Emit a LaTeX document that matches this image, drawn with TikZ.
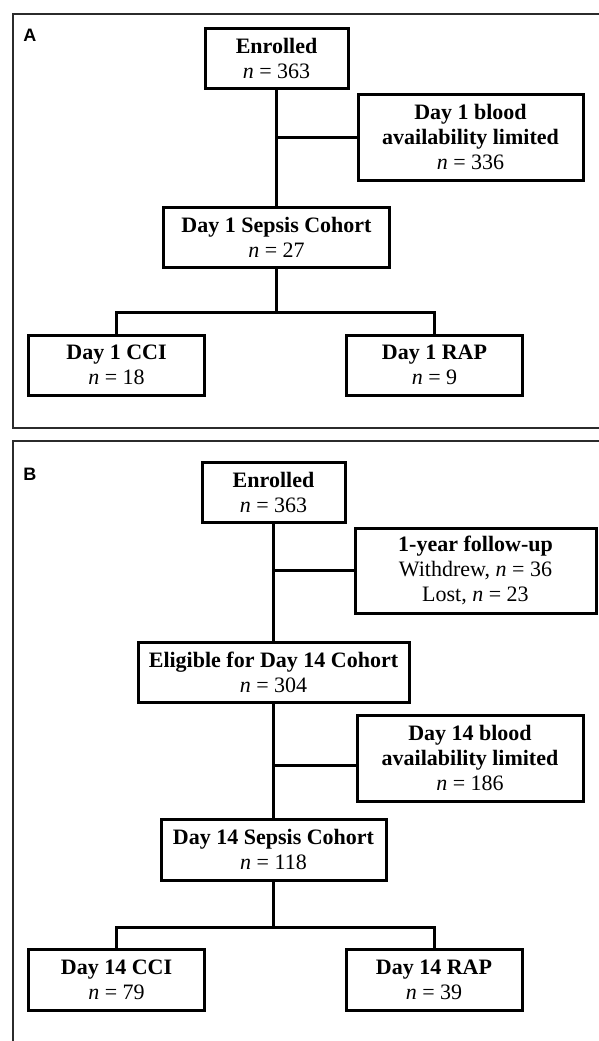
\documentclass[tikz,border=0pt]{standalone}
\usepackage{fontspec}
\setmainfont{Liberation Serif}
\newfontfamily\tagfont{Liberation Sans}
\usepackage{tikz}
\usetikzlibrary{positioning}
\definecolor{framegray}{HTML}{2B2B2B}

\begin{document}
\begin{tikzpicture}[
        x=0.5pt, y=-0.5pt,
        box/.style={rectangle, draw, line width=1.5pt, outer sep=0pt, inner sep=0pt, align=center, font=\fontsize{11}{12.5}\selectfont, minimum height=30pt},
        panel/.style={draw=framegray, line width=1pt},
        tag/.style={font=\tagfont\fontsize{9}{10}\selectfont\bfseries},
        link/.style={line width=1.5pt}
    ]
        \clip (0,0) rectangle (599,1041);
        % Panels
        \draw [panel] (13,14) rectangle (640,428);
        \draw [panel] (13,441) rectangle (640,1080);
        \node (tagA) [tag] at (30,35) {A};
        \node (tagB) [tag] at (30,474) {B};

        % Nodes (A)
        \node (enA) [box, minimum width=71.5pt] at (276.5,58) {\textbf{Enrolled}\\\textit{n} = 363};
        \node (limA) [box, minimum width=112.5pt, minimum height=43pt, below right=3pt and 5pt of enA] {\textbf{Day 1 blood}\\\textbf{availability limited}\\\textit{n} = 336};
        \node (sepA) [box, minimum width=113pt, below=59.5pt of enA] {\textbf{Day 1 Sepsis Cohort}\\\textit{n} = 27};
        \node (cciA) [box, minimum width=88pt, below=34pt of sepA, xshift=-80pt] {\textbf{Day 1 CCI}\\\textit{n} = 18};
        \node (rapA) [box, minimum width=88pt, below=34pt of sepA, xshift=79pt] {\textbf{Day 1 RAP}\\\textit{n} = 9};

        % Nodes (B)
        \node (enB) [box, minimum width=71.5pt] at (273.5,492) {\textbf{Enrolled}\\\textit{n} = 363};
        \node (fuB) [box, minimum width=120.5pt, minimum height=42.5pt, below right=3pt and 5pt of enB] {\textbf{1-year follow-up}\\Withdrew, \textit{n} = 36\\Lost, \textit{n} = 23};
        \node (eligB) [box, minimum width=135.5pt, below=60pt of enB] {\textbf{Eligible for Day 14 Cohort}\\\textit{n} = 304};
        \node (limB) [box, minimum width=113pt, minimum height=43pt, below=51pt of fuB, xshift=-2.75pt] {\textbf{Day 14 blood}\\\textbf{availability limited}\\\textit{n} = 186};
        \node (sepB) [box, minimum width=112.5pt, minimum height=30.5pt, below=58.5pt of eligB] {\textbf{Day 14 Sepsis Cohort}\\\textit{n} = 118};
        \node (cciB) [box, minimum width=88pt, minimum height=30.5pt, below=34.5pt of sepB, xshift=-78.5pt] {\textbf{Day 14 CCI}\\\textit{n} = 79};
        \node (rapB) [box, minimum width=88pt, minimum height=30.5pt, below=34.5pt of sepB, xshift=80.25pt] {\textbf{Day 14 RAP}\\\textit{n} = 39};

        % Lines (A)
        \draw [link] (enA) -- (sepA);
        \draw [link] (limA.west) -- (limA.west -| enA);
        \coordinate (jA) at ([yshift=-22.5pt]sepA.south);
        \draw [link] (sepA) -- (jA);
        \draw [link] (cciA.north) |- (jA) -| (rapA.north);

        % Lines (B)
        \draw [link] (enB) -- (eligB);
        \draw [link] (fuB.west) -- (fuB.west -| enB);
        \draw [link] (eligB) -- (sepB);
        \draw [link] ([yshift=-3.5pt]limB.west) -- ([yshift=-3.5pt]limB.west -| eligB);
        \coordinate (jB) at ([yshift=-23.5pt]sepB.south);
        \draw [link] (sepB) -- (jB);
        \draw [link] (cciB.north) |- (jB) -| (rapB.north);
\end{tikzpicture}
\end{document}
